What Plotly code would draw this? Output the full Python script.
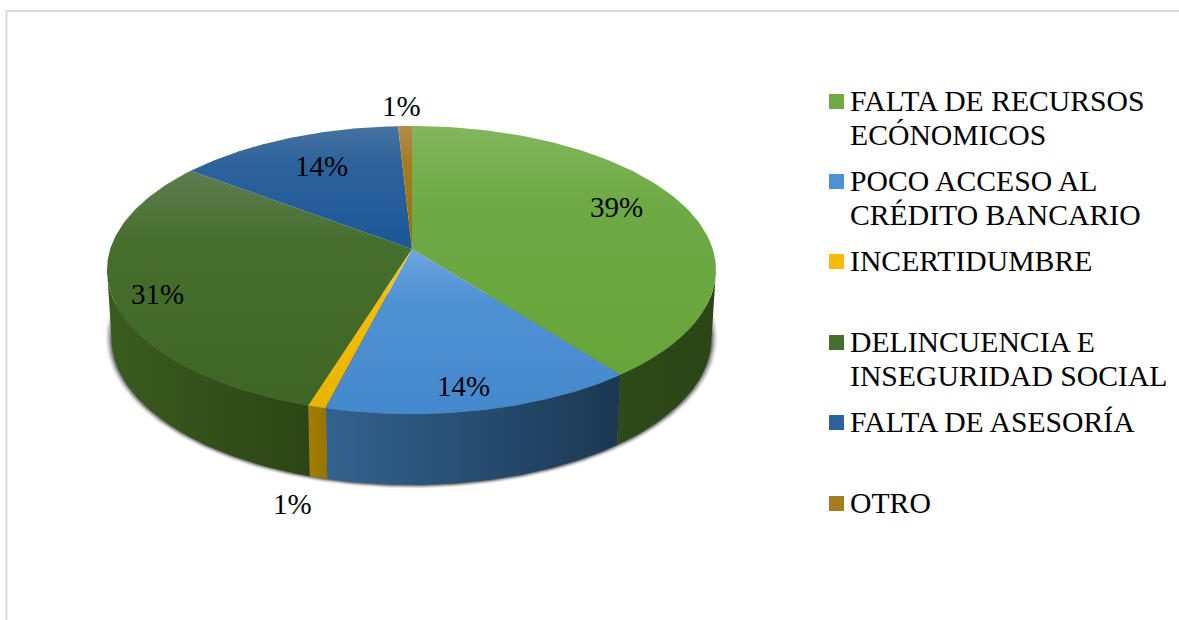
import numpy as np
import plotly.graph_objects as go

categories = ['FALTA DE RECURSOS<br>ECÓNOMICOS', 'POCO ACCESO AL<br>CRÉDITO BANCARIO', 'INCERTIDUMBRE',
              'DELINCUENCIA E<br>INSEGURIDAD SOCIAL', 'FALTA DE ASESORÍA', 'OTRO']
# slice widths as drawn in the picture
shares = [39.0, 15.2, 0.9, 29.7, 14.3, 0.9]
# the printed labels are rounded differently by the source chart
pct_labels = ['39%', '14%', '1%', '31%', '14%', '1%']

top_colors = [['#82b75c', '#6eaa45', '#66a53a'], ['#6ea5de', '#4f92d4', '#4489cd'], ['#ffc81a', '#f5bd08', '#e8b400'],
              ['#5f7d50', '#466f2e', '#3e6523'], ['#46729f', '#2d639b', '#1b5796'], ['#b08d4a', '#a47d20', '#9a7000']]
side_colors = [['#2d4a18', '#2a4516'], ['#33628f', '#1b3852'], ['#a27d00', '#997500'],
               ['#3a5c1f', '#2c4514'], ['#1b4068', '#1b4068'], ['#8a6500', '#8a6500']]
label_x = [616, 463, 292, 157, 321, 401]
label_y = [207, 386, 504, 294, 166, 106]
legend_y = [101, 181, 261, 342, 422, 503]
swatch_y = [102, 182, 262, 343, 423, 504]
font_family = 'Liberation Serif'
label_size = 29
legend_size = 29.7
legend_line = 34

# pie geometry in picture pixels
cx, cy, rx, ry = 411.5, 270, 304.5, 144
apex_x, apex_y = 412, 249
bot_cy, bot_rx, bot_ry = 338, 300, 147


def rim(theta):
    # where the ray from the apex hits the top ellipse, back as ellipse parameter
    dx, dy = 2 * np.sin(theta), -np.cos(theta)
    ox, oy = (apex_x - cx) / rx, (apex_y - cy) / ry
    ux, uy = dx / rx, dy / ry
    a = ux ** 2 + uy ** 2
    b = 2 * (ox * ux + oy * uy)
    c = ox ** 2 + oy ** 2 - 1
    s = (-b + np.sqrt(b ** 2 - 4 * a * c)) / (2 * a)
    return np.arctan2((oy + s * uy), (ox + s * ux))


def wedge(x, y, colors, start, stop, orient, name):
    stops = np.linspace(0, 1, len(colors)) if len(colors) == 2 else [0, 0.3, 1]
    return go.Scatter(x=x, y=y, mode='lines', fill='toself', line=dict(width=0), name=name,
                      fillgradient=dict(type=orient, start=start, stop=stop,
                                        colorscale=[[float(p), c] for p, c in zip(stops, colors)]),
                      hoverinfo='skip', showlegend=False)


fig = go.Figure()

# soft shadow under the base, ends tucked behind the wall
t_all = np.linspace(-0.3, np.pi + 0.3, 200)
for off, alpha in [(6, 0.06), (5, 0.08), (4, 0.10), (3, 0.14), (2, 0.20), (1, 0.28)]:
    sx = cx + (bot_rx + off) * np.cos(t_all)
    sy = bot_cy + (bot_ry + off * 0.6) * np.sin(t_all)
    fig.add_trace(go.Scatter(x=sx, y=sy, mode='lines', fill='toself', line=dict(width=0),
                             fillcolor=f'rgba(30,30,30,{alpha})', hoverinfo='skip', showlegend=False))

edges = np.cumsum([0] + shares) / 100 * 2 * np.pi
arcs = [rim(np.linspace(edges[i], edges[i + 1], 120)) for i in range(len(shares))]

# outer wall, front half only
for i, t in enumerate(arcs):
    t = np.unwrap(t)
    t = t[np.sin(t) >= 0]
    if len(t) < 2:
        continue
    top_x = cx + rx * np.cos(t)
    top_y = cy + ry * np.sin(t)
    low_x = cx + bot_rx * np.cos(t)
    low_y = bot_cy + bot_ry * np.sin(t)
    x = np.concatenate([top_x, low_x[::-1]])
    y = np.concatenate([top_y, low_y[::-1]])
    fig.add_trace(wedge(x, y, side_colors[i], x.min(), x.max(), 'horizontal', categories[i]))

# top face, each slice carries its own light-to-dark ramp
for i, t in enumerate(arcs):
    x = np.concatenate([[apex_x], cx + rx * np.cos(t), [apex_x]])
    y = np.concatenate([[apex_y], cy + ry * np.sin(t), [apex_y]])
    fig.add_trace(wedge(x, y, top_colors[i], y.min(), y.max(), 'vertical', categories[i]))

for lx, ly, txt in zip(label_x, label_y, pct_labels):
    fig.add_annotation(x=lx, y=ly, text=txt, showarrow=False, xanchor='center', yanchor='middle',
                       font=dict(family=font_family, size=label_size, color='#000000'))

# legend is laid out by hand, its rows have equal height whatever the wrapping
for i, name in enumerate(categories):
    fig.add_shape(type='rect', x0=829, x1=844, y0=swatch_y[i] - 8, y1=swatch_y[i] + 7,
                  line_width=0, fillcolor=top_colors[i][1])
    for k, line in enumerate(name.split('<br>')):
        fig.add_annotation(x=848, y=legend_y[i] + k * legend_line, text=line, showarrow=False,
                           xanchor='left', yanchor='middle', align='left',
                           font=dict(family=font_family, size=legend_size, color='#000000'))

# frame, only top and left are in the crop
fig.add_shape(type='line', x0=6.5, x1=1179, y0=11, y1=11, line=dict(color='#d9d9d9', width=2))
fig.add_shape(type='line', x0=6.5, x1=6.5, y0=11, y1=620, line=dict(color='#d9d9d9', width=2))

fig.update_xaxes(range=[0, 1179], visible=False, fixedrange=True)
fig.update_yaxes(range=[620, 0], visible=False, fixedrange=True)
fig.update_layout(width=1179, height=620, margin=dict(l=0, r=0, t=0, b=0),
                  paper_bgcolor='white', plot_bgcolor='white', showlegend=False)
fig.write_html("out.html", config={'displayModeBar': False}, post_script="document.body.style.margin='0';")
